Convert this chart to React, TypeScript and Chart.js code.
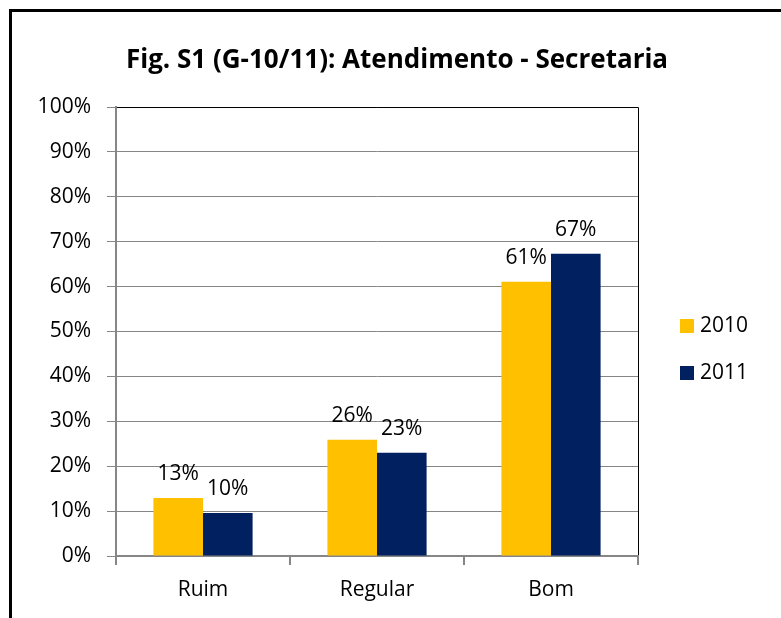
import { useEffect, useRef } from 'react';
import { Chart, registerables } from 'chart.js';

Chart.register(...registerables);

const titleText = 'Fig. S1 (G-10/11): Atendimento - Secretaria';
const categories = ['Ruim', 'Regular', 'Bom'];
const seriesNames = ['2010', '2011'];
const values2010 = [12.9, 25.9, 61.1];
const values2011 = [9.6, 23.0, 67.3];
const seriesColors = ['#FFC000', '#002060'];
const yMin = 0;
const yMax = 100;
const yStep = 10;

const FONT = '"Open Sans", sans-serif';
const GRAY = '#868686';

export default function App() {
  const ref = useRef<HTMLCanvasElement>(null);

  useEffect(() => {
    const canvas = ref.current;
    if (!canvas) return;

    const framePlugin = {
      id: 'frame',
      beforeDraw(chart: any) {
        const { ctx, width, height } = chart;
        ctx.save();
        ctx.fillStyle = '#ffffff';
        ctx.fillRect(0, 0, width, height);
        ctx.strokeStyle = '#000000';
        ctx.lineWidth = 3;
        ctx.strokeRect(10.5, 10.5, width + 100, height + 100);
        ctx.restore();
      },
    };

    const decorPlugin = {
      id: 'decor',
      afterDatasetsDraw(chart: any) {
        const { ctx } = chart;
        ctx.save();
        ctx.font = `21px ${FONT}`;
        ctx.fillStyle = '#000000';
        ctx.textAlign = 'center';
        ctx.textBaseline = 'alphabetic';
        chart.data.datasets.forEach((ds: any, i: number) => {
          const meta = chart.getDatasetMeta(i);
          meta.data.forEach((bar: any, j: number) => {
            const v = ds.data[j] as number;
            ctx.fillText(`${Math.round(v)}%`, bar.x, bar.y - 18);
          });
        });
        ctx.restore();
      },
      afterDraw(chart: any) {
        const { ctx, chartArea } = chart;
        ctx.save();
        // plot area top/right border
        ctx.strokeStyle = '#000000';
        ctx.lineWidth = 1;
        ctx.beginPath();
        ctx.moveTo(chartArea.left + 1, Math.floor(chartArea.top) + 0.5);
        ctx.lineTo(Math.floor(chartArea.right) + 0.5, Math.floor(chartArea.top) + 0.5);
        ctx.lineTo(Math.floor(chartArea.right) + 0.5, chartArea.bottom - 1);
        ctx.stroke();

        // title
        ctx.font = `bold 26px ${FONT}`;
        ctx.fillStyle = '#000000';
        ctx.textAlign = 'center';
        ctx.textBaseline = 'alphabetic';
        ctx.fillText(titleText, 397, 68);

        // legend
        ctx.font = `21px ${FONT}`;
        ctx.textAlign = 'left';
        ctx.textBaseline = 'middle';
        seriesNames.forEach((name, i) => {
          const cy = 326 + i * 47;
          ctx.fillStyle = seriesColors[i];
          ctx.fillRect(680, cy - 7, 14, 14);
          ctx.fillStyle = '#000000';
          ctx.fillText(name, 700, cy);
        });
        ctx.restore();
      },
    };

    const chart = new Chart(canvas, {
      type: 'bar',
      data: {
        labels: categories,
        datasets: [
          {
            label: seriesNames[0],
            data: values2010,
            backgroundColor: seriesColors[0],
            borderWidth: 0,
            categoryPercentage: 0.57,
            barPercentage: 1,
          },
          {
            label: seriesNames[1],
            data: values2011,
            backgroundColor: seriesColors[1],
            borderWidth: 0,
            categoryPercentage: 0.57,
            barPercentage: 1,
          },
        ],
      },
      options: {
        responsive: false,
        animation: false,
        devicePixelRatio: 1,
        layout: { padding: { top: 107, right: 143, left: 0, bottom: 0 } },
        plugins: {
          legend: { display: false },
          title: { display: false },
          tooltip: { enabled: false },
        },
        scales: {
          x: {
            afterFit(scale: any) {
              scale.height = 62;
            },
            grid: {
              display: true,
              offset: true,
              drawOnChartArea: false,
              drawTicks: true,
              tickLength: 9,
              color: GRAY,
              lineWidth: 2,
            },
            border: { display: true, color: GRAY, width: 2 },
            ticks: {
              color: '#000000',
              font: { family: FONT, size: 21 },
              padding: 12,
              maxRotation: 0,
            },
          },
          y: {
            min: yMin,
            max: yMax,
            afterFit(scale: any) {
              scale.width = 116;
            },
            grid: {
              display: true,
              drawOnChartArea: true,
              drawTicks: true,
              tickLength: 9,
              color: GRAY,
              lineWidth: 1,
            },
            border: { display: true, color: GRAY, width: 2 },
            ticks: {
              stepSize: yStep,
              color: '#000000',
              font: { family: FONT, size: 21 },
              padding: 16,
              callback: (v: any) => `${v}%`,
            },
          },
        },
      },
      plugins: [framePlugin, decorPlugin],
    } as any);

    return () => chart.destroy();
  }, []);

  return (
    <div style={{ position: 'absolute', left: 0, top: 0, width: 781, height: 618 }}>
      <canvas ref={ref} width={781} height={618} style={{ display: 'block' }} />
    </div>
  );
}
